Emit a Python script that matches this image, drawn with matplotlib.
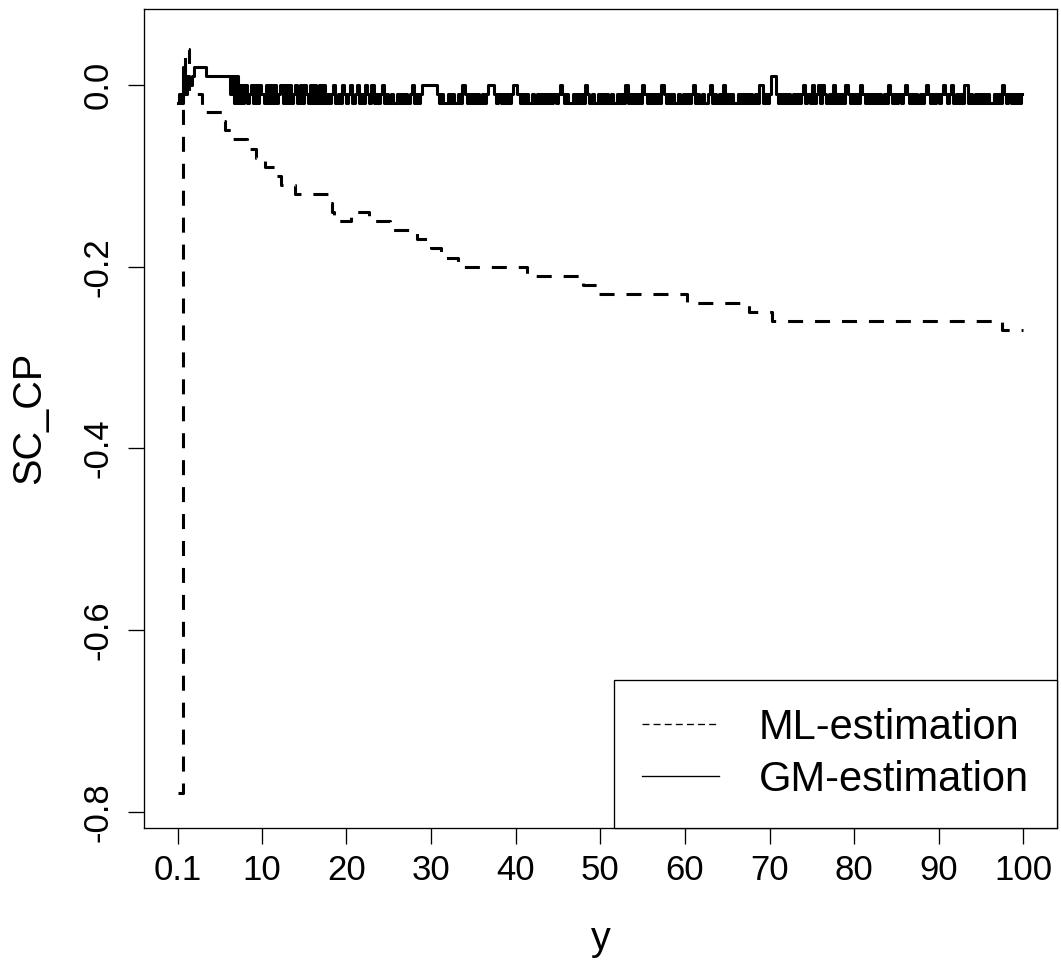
import numpy as np
import matplotlib
matplotlib.use("Agg")
import matplotlib.pyplot as plt
from matplotlib.lines import Line2D

# ML-estimation: trinn (x der verdien endrer seg, ny verdi)
ml_x = [0.1, 0.7, 1.0, 1.4, 3.0, 5.3, 5.7, 6.4, 8.3, 9.3, 10.4, 11.6, 12.3,
        13.9, 17.8, 18.3, 18.6, 20.5, 22.7, 25.2, 28.3, 30.0, 31.2, 33.2,
        41.3, 48.0, 49.6, 60.2, 67.6, 70.3, 97.5, 100.0]
ml_y = [-0.78, -0.01, 0.04, -0.01, -0.03, -0.04, -0.05, -0.06, -0.07, -0.08,
        -0.09, -0.10, -0.11, -0.12, -0.13, -0.14, -0.15, -0.14, -0.15, -0.16,
        -0.17, -0.18, -0.19, -0.20, -0.21, -0.22, -0.23, -0.24, -0.25, -0.26,
        -0.27, -0.27]

# GM-estimation: en kode per 0.25 steg i x (lest av bildet)
# 0=-0.02, 1=-0.01, 2=0.00, 3=0.01, 4=0.02
gm_start = 0.1
gm_step = 0.25
gm_nivaa = {"0": -0.02, "1": -0.01, "2": 0.0, "3": 0.01, "4": 0.02}
gm_koder = [
    "0104132344444433333333333130",
    "3", "0202012020", "2102020201", "2020201202", "0210202020", "201",
    "0120102101201201021020101201",
    "0100101010", "1201012222", "2221010010", "1001021010", "1010101222",
    "1010101012", "2101010010", "1010101010", "1210100101", "0102101001",
    "0101010010", "1020101010", "2101010102", "1010100101", "0101201010",
    "0120101020", "1010010101", "0101022010", "1331010101", "0101012010",
    "2012021010", "2010102101", "0102101010", "1010102101", "0101210101",
    "0101210101", "0121012010", "1022010101", "0101001010", "2101010101",
]

x_ticks = [0.1, 10, 20, 30, 40, 50, 60, 70, 80, 90, 100]
x_labels = ["0.1", "10", "20", "30", "40", "50", "60", "70", "80", "90", "100"]
y_ticks = [0.0, -0.2, -0.4, -0.6, -0.8]
y_labels = ["0.0", "-0.2", "-0.4", "-0.6", "-0.8"]
serie_navn = ["ML-estimation", "GM-estimation"]

plt.rcParams["font.family"] = ["Liberation Sans", "DejaVu Sans"]
plt.rcParams["lines.scale_dashes"] = False

koder = "".join(gm_koder)
gm_y = [gm_nivaa[k] for k in koder]
gm_x = gm_start + gm_step * np.arange(len(gm_y))

fig = plt.figure(figsize=(10.61, 9.64), dpi=100)
ax = fig.add_axes([144 / 1061, 1 - 828 / 964, (1057.3 - 144) / 1061, (828 - 8.7) / 964])

ax.plot(ml_x, ml_y, drawstyle="steps-post", color="black", lw=2.2,
        dashes=(10.8, 8.6))
ax.plot(gm_x, gm_y, drawstyle="steps-mid", color="black", lw=2.2)

ax.set_xlim(-3.896, 103.996)
ax.set_ylim(-0.818, 0.084)

ax.set_xticks(x_ticks)
ax.set_xticklabels(x_labels)
ax.set_yticks(y_ticks)
ax.set_yticklabels(y_labels, rotation=90, va="center")
ax.tick_params(axis="both", length=11.3, width=0.95, labelsize=25, color="black")
ax.tick_params(axis="x", pad=7.5)
ax.tick_params(axis="y", pad=10.2)
for s in ax.spines.values():
    s.set_linewidth(0.95)

ax.set_xlabel("y", fontsize=28.5, labelpad=24)
ax.set_ylabel("SC_CP", fontsize=28.5, labelpad=24)

handles = [Line2D([], [], color="black", lw=0.95, dashes=(5, 3)),
           Line2D([], [], color="black", lw=0.95)]
leg = ax.legend(handles, serie_navn, loc="lower right", fontsize=30,
                frameon=True, fancybox=False, edgecolor="black", framealpha=1,
                borderaxespad=0, borderpad=0.68, labelspacing=0.28,
                handlelength=1.85, handletextpad=0.95)
leg.get_frame().set_linewidth(0.95)

fig.savefig("out.png", dpi=100)
